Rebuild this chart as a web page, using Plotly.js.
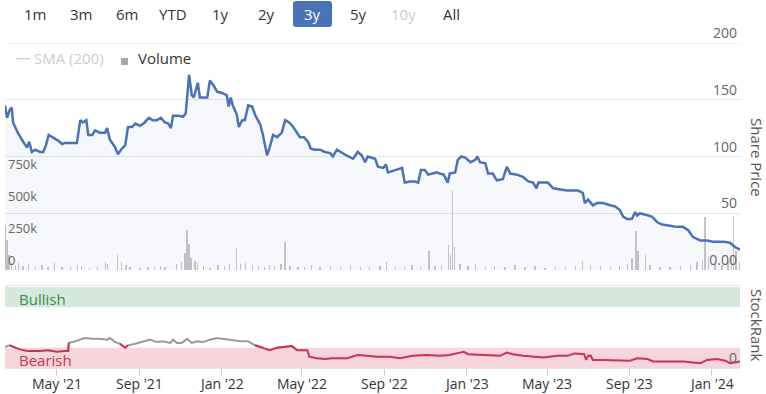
<!DOCTYPE html>
<html>
<head>
<meta charset="utf-8">
<script src="https://cdn.plot.ly/plotly-3.0.1.min.js"></script>
<style>html,body{margin:0;padding:0;background:#fff;}#chart{width:766px;height:394px;}</style>
</head>
<body>
<div id="chart"></div>
<script>
// ---------- DATA ----------
const priceDates = [
'2021-02-13','2021-02-16','2021-02-20','2021-02-23','2021-02-25','2021-02-28','2021-03-04','2021-03-12','2021-03-18','2021-03-21',
'2021-03-25','2021-03-30','2021-04-06','2021-04-11','2021-04-15','2021-04-19','2021-04-25','2021-05-03','2021-05-09','2021-05-13',
'2021-05-21','2021-05-31','2021-06-05','2021-06-09','2021-06-14','2021-06-17','2021-06-23','2021-06-27','2021-07-04','2021-07-12',
'2021-07-15','2021-07-19','2021-07-27','2021-07-31','2021-08-06','2021-08-11','2021-08-15','2021-08-21','2021-08-26','2021-09-02',
'2021-09-09','2021-09-15','2021-09-21','2021-09-27','2021-10-03','2021-10-09','2021-10-14','2021-10-18','2021-10-21','2021-10-29',
'2021-11-05','2021-11-09','2021-11-14',
'2021-11-18','2021-11-21','2021-11-27','2021-11-30','2021-12-05','2021-12-11','2021-12-15','2021-12-20','2021-12-26','2022-01-02',
'2022-01-09','2022-01-12','2022-01-15','2022-01-18','2022-01-24','2022-01-27','2022-02-01','2022-02-05','2022-02-10','2022-02-16',
'2022-02-20','2022-02-28','2022-03-04','2022-03-10','2022-03-14','2022-03-19','2022-03-25','2022-04-01','2022-04-06','2022-04-12',
'2022-04-18','2022-04-24','2022-04-28','2022-05-04','2022-05-10','2022-05-14','2022-05-20','2022-05-28','2022-06-04','2022-06-12',
'2022-06-16','2022-06-22','2022-06-30','2022-07-09','2022-07-16','2022-07-23','2022-07-29','2022-08-03','2022-08-07','2022-08-18',
'2022-08-22','2022-08-30','2022-09-03','2022-09-06','2022-09-17','2022-09-27','2022-10-01','2022-10-09','2022-10-16','2022-10-21',
'2022-10-25','2022-10-31','2022-11-05','2022-11-12','2022-11-18','2022-11-22','2022-11-28','2022-12-04','2022-12-07','2022-12-15',
'2022-12-19','2022-12-24','2022-12-30','2023-01-07','2023-01-14','2023-01-17','2023-01-21','2023-01-29','2023-02-02','2023-02-09',
'2023-02-15','2023-02-24','2023-03-02','2023-03-07','2023-03-17','2023-03-26','2023-04-03','2023-04-10','2023-04-15','2023-04-18',
'2023-04-25','2023-05-02','2023-05-10','2023-05-20',
'2023-05-30','2023-06-08','2023-06-16','2023-06-23','2023-06-26','2023-07-01','2023-07-08','2023-07-14','2023-07-23','2023-08-03',
'2023-08-10','2023-08-17','2023-08-22','2023-08-28','2023-09-04','2023-09-09','2023-09-12','2023-09-16','2023-09-27','2023-10-04',
'2023-10-12','2023-10-19','2023-10-31','2023-11-10','2023-11-19','2023-11-27','2023-12-04','2023-12-15','2023-12-25','2024-01-03',
'2024-01-18','2024-01-28','2024-02-05','2024-02-12'
];
const priceValues = [
145,134,141,143,130,126,121,113,108,113,104,106,104,104,110,119,117,114,111,112,112,112,132,130,132,119,119,123,121,121,
125,115,108,102,107,110,126,126,129,127,130,134,132,132,134,130,129,125,136,136,135,138,172,
154,152,165,152,152,152,167,163,157,156,154,144,152,145,137,126,132,132,145,144,137,128,119,101,108,119,117,121,132,130,
126,121,117,117,113,107,106,106,104,103,100,106,103,100,98,104,101,95,100,98,
91,90,93,86,88,90,77,78,78,77,88,88,84,85,86,85,84,77,85,86,97,100,99,95,97,100,95,94,85,85,
79,80,91,85,84,82,78,77,72,77,77,77,72,71,
70,70,70,68,59,62,57,59,59,57,56,53,47,45,45,51,48,50,48,47,42,40,39,38,38,35,29,26,26,25,
25,24,20,18
];

const volumeDates = [
'2021-02-13','2021-02-16','2021-02-19','2021-02-23','2021-03-01','2021-03-05','2021-03-12','2021-03-20','2021-03-30','2021-04-09',
'2021-04-18','2021-04-28','2021-05-09','2021-05-21','2021-06-01','2021-06-07','2021-06-19','2021-07-01','2021-07-13','2021-07-16',
'2021-07-30','2021-08-05','2021-08-12','2021-08-18','2021-09-02','2021-09-14','2021-09-24','2021-10-02','2021-10-09','2021-10-26',
'2021-11-03','2021-11-08','2021-11-11','2021-11-14','2021-11-17','2021-11-23','2021-11-27','2021-12-05','2021-12-15','2021-12-27',
'2022-01-06','2022-01-13','2022-01-24','2022-01-30','2022-02-06','2022-02-16','2022-02-25','2022-03-06','2022-03-14','2022-03-21',
'2022-03-31','2022-04-06','2022-04-13','2022-04-25','2022-05-05','2022-05-15','2022-05-28','2022-06-12','2022-06-27','2022-07-12',
'2022-07-27','2022-08-10','2022-08-25','2022-09-04','2022-09-17','2022-10-01','2022-10-12','2022-10-24','2022-11-06','2022-11-15',
'2022-11-25','2022-12-05','2022-12-08','2022-12-11','2022-12-14','2022-12-22','2023-01-03','2023-01-14','2023-01-29','2023-02-12',
'2023-02-27','2023-03-14','2023-03-29','2023-04-13','2023-04-28','2023-05-13','2023-05-28','2023-06-12','2023-06-23','2023-07-04',
'2023-07-19','2023-08-03','2023-08-17','2023-08-29','2023-09-04','2023-09-10','2023-09-13','2023-09-24','2023-10-01','2023-10-16',
'2023-10-31','2023-11-15','2023-11-30','2023-12-10','2023-12-18','2023-12-22','2023-12-27','2024-01-06','2024-01-16','2024-01-25',
'2024-01-30','2024-02-02','2024-02-06','2024-02-11'
];
const volumeValues = [
350000,230000,120000,60000,40000,55000,30000,45000,25000,35000,
20000,55000,20000,25000,40000,30000,15000,20000,65000,45000,
115000,60000,40000,25000,15000,20000,25000,30000,20000,45000,
60000,130000,310000,200000,90000,70000,55000,30000,15000,40000,
30000,45000,170000,50000,55000,40000,30000,25000,40000,30000,
50000,220000,30000,25000,20000,40000,20000,30000,20000,40000,
20000,25000,30000,60000,20000,25000,35000,20000,150000,30000,
40000,190000,120000,615000,180000,50000,30000,45000,20000,30000,
25000,40000,20000,30000,15000,25000,20000,30000,70000,40000,
30000,20000,30000,50000,90000,300000,150000,115000,40000,20000,
25000,30000,40000,60000,80000,410000,100000,50000,40000,70000,
120000,420000,150000,60000
];

const rankDates = [
'2021-02-13','2021-02-20','2021-02-28','2021-03-07','2021-03-18','2021-03-27','2021-04-06','2021-04-18','2021-05-01','2021-05-13',
'2021-05-18','2021-05-19','2021-05-25','2021-06-05','2021-06-12','2021-06-23','2021-07-04','2021-07-15','2021-07-19','2021-07-27',
'2021-08-03','2021-08-11','2021-08-15','2021-08-26','2021-09-05','2021-09-17','2021-09-27','2021-10-06','2021-10-17','2021-10-21',
'2021-10-27','2021-11-03','2021-11-11','2021-11-18','2021-11-26','2021-12-05','2021-12-15','2021-12-26','2022-01-02','2022-01-14',
'2022-01-29','2022-02-10','2022-02-20','2022-03-04','2022-03-14','2022-03-25','2022-04-03','2022-04-16','2022-04-24','2022-05-03',
'2022-05-09','2022-05-12','2022-05-23','2022-06-04','2022-06-16','2022-07-07','2022-07-23','2022-08-06','2022-08-21','2022-09-09',
'2022-09-24','2022-10-13','2022-11-03','2022-11-22','2022-12-07','2022-12-22','2022-12-28','2023-01-03','2023-01-21','2023-02-05',
'2023-02-20','2023-03-02','2023-03-11','2023-03-26','2023-04-10','2023-04-25','2023-05-16','2023-05-31','2023-06-11','2023-06-19',
'2023-06-25','2023-06-28','2023-07-01','2023-07-05','2023-07-08','2023-07-23','2023-08-13','2023-09-01','2023-09-12','2023-09-27',
'2023-10-06','2023-10-26','2023-11-19','2023-12-15','2023-12-25','2024-01-09','2024-01-21','2024-01-28','2024-02-12'
];
const rankValues = [
26,28,25,23,21,21,21,22,20,21,
21,31,32,35,37,36,36,35,37,32,
30,25,28,30,32,35,32,33,31,35,
31,31,36,31,33,32,35,37,36,35,
33,33,28,25,22,25,26,27,22,22,
22,14,12,11,12,12,16,15,14,14,
12,15,16,15,16,19,20,17,16,15,
15,19,17,15,14,13,15,15,18,17,
17,10,15,15,10,10,9,9,12,11,
8,8,8,6,10,11,9,6,8
];

const xTickDates = ['2021-05-01','2021-09-01','2022-01-01','2022-05-01','2022-09-01','2023-01-01','2023-05-01','2023-09-01','2024-01-01'];
const xTickLabels = ["May '21","Sep '21","Jan '22","May '22","Sep '22","Jan '23","May '23","Sep '23","Jan '24"];
const priceTicks = [0, 50, 100, 150, 200];
const priceTickLabels = ['0.00', '50', '100', '150', '200'];
const volumeTicks = [0, 250000, 500000, 750000];
const volumeTickLabels = ['0', '250k', '500k', '750k'];
const rangeButtons = ['1m','3m','6m','YTD','1y','2y','3y','5y','10y','All'];
const selectedButton = '3y';
const disabledButton = '10y';
const xRange = ['2021-02-13','2024-02-12'];
const bearishMax = 25, bullishMin = 75;

// ---------- GEOMETRY ----------
const W = 766, H = 394, ML = 5, MR = 26, MT = 43, MB = 26;
const PW = W - ML - MR, PH = H - MT - MB;
const px = p => (p - ML) / PW;
const py = p => (H - MB - p) / PH;

const FONT = '"Open Sans", "Noto Sans", sans-serif';

// split StockRank line into bearish (red) and neutral (grey) parts
const n = rankValues.length;
const isRed = v => v <= bearishMax;
const greyY = rankValues.map((v, i) =>
  (!isRed(v) || (i > 0 && !isRed(rankValues[i-1])) || (i < n-1 && !isRed(rankValues[i+1]))) ? v : null);
const redY = rankValues.map((v, i) =>
  (isRed(v) || (i > 0 && isRed(rankValues[i-1])) || (i < n-1 && isRed(rankValues[i+1]))) ? v : null);

const traces = [
  { type: 'bar', x: volumeDates, y: volumeValues, xaxis: 'x', yaxis: 'y',
    marker: { color: '#c6c6c6', line: { width: 0 } }, width: 2 * 86400000, hoverinfo: 'skip' },
  { type: 'scatter', mode: 'lines', x: priceDates, y: priceValues, xaxis: 'x', yaxis: 'y2',
    line: { color: '#4a72b8', width: 2.5 }, fill: 'tozeroy', fillcolor: 'rgba(74,114,184,0.05)' },
  { type: 'scatter', mode: 'lines', x: rankDates, y: greyY, xaxis: 'x', yaxis: 'y3',
    line: { color: '#9a9a9a', width: 2 } },
  { type: 'scatter', mode: 'lines', x: rankDates, y: redY, xaxis: 'x', yaxis: 'y3',
    line: { color: '#cc3352', width: 2 } }
];

// range buttons
const btnCenters = [35, 81, 127, 173, 220, 266, 312, 358, 404, 451];
const annotations = rangeButtons.map((b, i) => ({
  xref: 'paper', yref: 'paper', x: px(btnCenters[i]), y: py(14), xanchor: 'center', yanchor: 'middle',
  text: b, showarrow: false,
  font: { family: FONT, size: 15, color: b === selectedButton ? '#ffffff' : (b === disabledButton ? '#cccccc' : '#333333') }
}));

// x-axis labels (placed at the axis' own date positions)
xTickDates.forEach((d, i) => annotations.push({
  xref: 'x', yref: 'paper', x: d, y: py(383), xanchor: 'center', yanchor: 'middle', showarrow: false,
  text: xTickLabels[i], font: { family: FONT, size: 14, color: '#333333' }
}));

annotations.push(
  { xref: 'paper', yref: 'paper', x: px(14), y: py(58), xanchor: 'left', yanchor: 'middle', showarrow: false,
    text: '—', font: { family: FONT, size: 14, color: '#cccccc' } },
  { xref: 'paper', yref: 'paper', x: px(32), y: py(58), xanchor: 'left', yanchor: 'middle', showarrow: false,
    text: 'SMA (200)', font: { family: FONT, size: 15, color: '#cccccc' } },
  { xref: 'paper', yref: 'paper', x: px(136), y: py(58), xanchor: 'left', yanchor: 'middle', showarrow: false,
    text: 'Volume', font: { family: FONT, size: 15, color: '#333333' } },
  { xref: 'paper', yref: 'paper', x: px(757), y: py(157), xanchor: 'center', yanchor: 'middle', showarrow: false,
    text: 'Share Price', textangle: 90, font: { family: FONT, size: 15, color: '#555555' } },
  { xref: 'paper', yref: 'paper', x: px(757), y: py(325), xanchor: 'center', yanchor: 'middle', showarrow: false,
    text: 'StockRank', textangle: 90, font: { family: FONT, size: 15, color: '#555555' } },
  { xref: 'paper', yref: 'paper', x: px(17), y: py(299), xanchor: 'left', yanchor: 'middle', showarrow: false,
    text: 'Bullish', font: { family: FONT, size: 15, color: '#3b8a4c' } },
  { xref: 'paper', yref: 'paper', x: px(17), y: py(360), xanchor: 'left', yanchor: 'middle', showarrow: false,
    text: 'Bearish', font: { family: FONT, size: 15, color: '#c9354f' } }
);

function roundRect(x0, y0, x1, y1, r) {
  const X = v => px(v), Y = v => py(v);
  return `M ${X(x0 + r)} ${Y(y0)} L ${X(x1 - r)} ${Y(y0)} Q ${X(x1)} ${Y(y0)} ${X(x1)} ${Y(y0 + r)} ` +
         `L ${X(x1)} ${Y(y1 - r)} Q ${X(x1)} ${Y(y1)} ${X(x1 - r)} ${Y(y1)} L ${X(x0 + r)} ${Y(y1)} ` +
         `Q ${X(x0)} ${Y(y1)} ${X(x0)} ${Y(y1 - r)} L ${X(x0)} ${Y(y0 + r)} Q ${X(x0)} ${Y(y0)} ${X(x0 + r)} ${Y(y0)} Z`;
}

const shapes = [
  { type: 'rect', xref: 'paper', yref: 'y3', x0: 0, x1: 1, y0: bullishMin, y1: 100,
    fillcolor: '#d6e9dd', line: { width: 0 }, layer: 'below' },
  { type: 'rect', xref: 'paper', yref: 'y3', x0: 0, x1: 1, y0: 0, y1: bearishMax,
    fillcolor: '#f5d6dc', line: { width: 0 }, layer: 'below' },
  { type: 'line', xref: 'paper', yref: 'paper', x0: 0, x1: 1, y0: py(285.5), y1: py(285.5),
    line: { color: '#e3e3e3', width: 1 } },
  { type: 'line', xref: 'paper', yref: 'y2', x0: 0, x1: 1, y0: 200, y1: 200,
    line: { color: '#e6e6e6', width: 1 }, layer: 'below' },
  { type: 'path', xref: 'paper', yref: 'paper', path: roundRect(293, 1, 332, 27, 3),
    fillcolor: '#4a72b8', line: { width: 0 }, layer: 'below' },
  { type: 'rect', xref: 'paper', yref: 'paper', x0: px(121), x1: px(128), y0: py(65), y1: py(58),
    fillcolor: '#a8a8a8', line: { width: 0 } }
];

const priceTop = 1, priceBottom = py(270);
const rankTop = py(287);

const layout = {
  width: W, height: H,
  margin: { l: ML, r: MR, t: MT, b: MB, pad: 0 },
  paper_bgcolor: '#ffffff', plot_bgcolor: 'rgba(0,0,0,0)',
  showlegend: false, bargap: 0,
  font: { family: FONT, color: '#666666' },
  xaxis: {
    type: 'date', range: xRange, anchor: 'y3', domain: [0, 1],
    showgrid: false, zeroline: false,
    showline: true, linecolor: '#e6e6e6', linewidth: 1,
    ticks: 'outside', ticklen: 7, tickcolor: '#d0d0d0', tickwidth: 1,
    tickvals: xTickDates, showticklabels: false
  },
  yaxis: {
    domain: [priceBottom, priceTop], range: [0, 1760000], side: 'left', anchor: 'x',
    tickvals: volumeTicks, ticktext: volumeTickLabels,
    ticklabelposition: 'inside top', ticklabeloverflow: 'allow', ticks: '', showgrid: false, zeroline: false, showline: false,
    tickfont: { family: FONT, size: 13, color: '#666666' }
  },
  yaxis2: {
    overlaying: 'y', side: 'right', anchor: 'x', range: [0, 200],
    tickvals: priceTicks, ticktext: priceTickLabels,
    ticklabelposition: 'inside top', ticklabeloverflow: 'allow', ticks: '', showgrid: true, gridcolor: '#e6e6e6', gridwidth: 1,
    zeroline: false, showline: false,
    tickfont: { family: FONT, size: 14, color: '#666666' }
  },
  yaxis3: {
    domain: [0, rankTop], range: [0, 100], side: 'right', anchor: 'x',
    tickvals: [0], ticktext: ['0'], ticklabelposition: 'inside top', ticklabeloverflow: 'allow', ticks: '',
    showgrid: false, zeroline: false, showline: false,
    tickfont: { family: FONT, size: 14, color: '#666666' }
  },
  shapes: shapes,
  annotations: annotations
};

Plotly.newPlot('chart', traces, layout, { staticPlot: true, displayModeBar: false });
</script>
</body>
</html>
